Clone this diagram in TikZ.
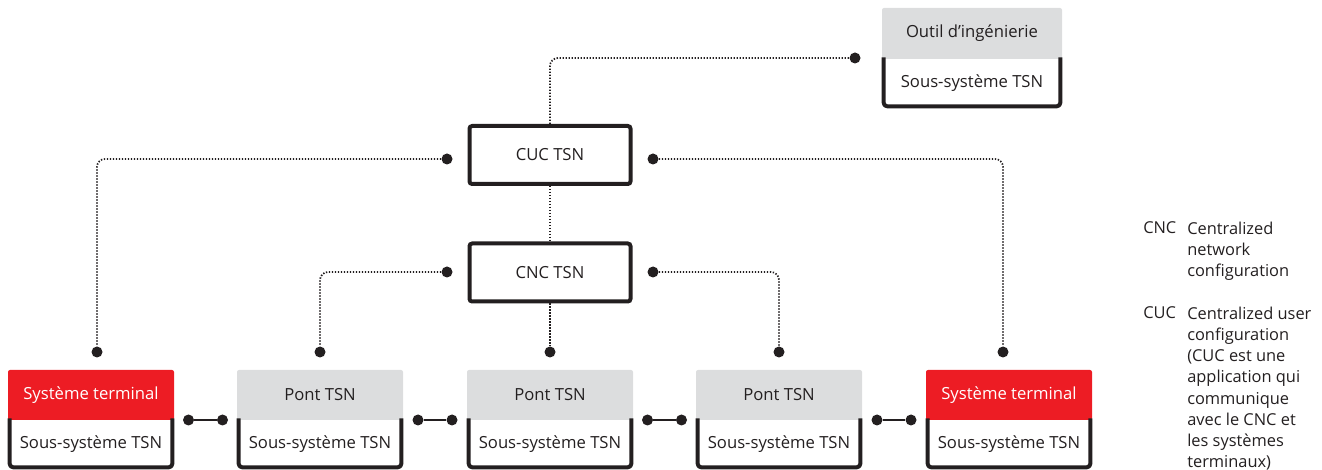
\documentclass[tikz,border=0pt]{standalone}
\usepackage{fontspec}
\setmainfont{Open Sans}
\definecolor{abbred}{HTML}{ED1C24}
\definecolor{hdrgray}{HTML}{DCDDDE}
\definecolor{ink}{HTML}{231F20}

\begin{document}
\begin{tikzpicture}[x=0.75pt,y=-0.75pt,
  every node/.style={font=\fontsize{12.5}{16.1}\selectfont, text=ink},
  ctrlbox/.style={draw=ink, line width=3pt, fill=white, rounded corners=2pt,
    minimum width=120.75pt, minimum height=43.5pt, inner sep=0pt},
  hdrbox/.style={minimum width=124.5pt, minimum height=37.5pt, inner sep=0pt, rounded corners=1.5pt},
  termhdr/.style={hdrbox, fill=abbred, text=white},
  grayhdr/.style={hdrbox, fill=hdrgray},
  devbody/.style={minimum width=124.5pt, minimum height=36.75pt, inner sep=0pt},
  jdot/.style={circle, fill=ink, draw=none, inner sep=0pt, minimum size=8.25pt},
  dotline/.style={draw=ink, line width=1.3pt, dash pattern=on 1.05pt off 1.2pt, rounded corners=6pt},
  linkline/.style={draw=ink, line width=1.2pt},
  subframe/.style={draw=ink, line width=3pt, rounded corners=2.5pt, line join=round, line cap=rect},
  legfont/.style={font=\fontsize{12.3}{15.9}\selectfont},
  legabbr/.style={legfont, anchor=base west, inner sep=0pt},
  legtext/.style={legfont, anchor=north west, align=left, inner sep=0pt}
]
\useasboundingbox (0,0) rectangle (1322,470);

% controllers
\node[ctrlbox] (cuc) at (550,155) {CUC TSN};
\node[ctrlbox] (cnc) at (550,272.5) {CNC TSN};

% engineering tool
\node[grayhdr, minimum width=135pt, minimum height=38.25pt] (toolh) at (972,33.5) {Outil d’ingénierie};
\node[devbody, minimum width=135pt] (toolb) at (972,83.5) {Sous-système TSN};
\draw[subframe] ([xshift=1.5pt]toolh.south west) -- ([xshift=1.5pt,yshift=1.5pt]toolb.south west)
  -- ([xshift=-1.5pt,yshift=1.5pt]toolb.south east) -- ([xshift=-1.5pt]toolh.south east);

% devices in the network
\node[termhdr] (d1h) at (91,395) {Système terminal};
\node[grayhdr] (d2h) at (320,395) {Pont TSN};
\node[grayhdr] (d3h) at (550,395) {Pont TSN};
\node[grayhdr] (d4h) at (779,395) {Pont TSN};
\node[termhdr] (d5h) at (1009,395) {Système terminal};
\foreach \i/\x in {1/91,2/320,3/550,4/779,5/1009}{
  \node[devbody] (d\i b) at (\x,444.5) {Sous-système TSN};
  \draw[subframe] ([xshift=1.5pt]d\i h.south west) -- ([xshift=1.5pt,yshift=1.5pt]d\i b.south west)
    -- ([xshift=-1.5pt,yshift=1.5pt]d\i b.south east) -- ([xshift=-1.5pt]d\i h.south east);
}

% links between neighbouring devices
\foreach \a/\b/\x in {1/2/205.5,2/3/435,3/4/664.5,4/5/894}{
  \node[jdot] (l\a L) at (\x-17,420) {};
  \node[jdot] (l\a R) at (\x+17,420) {};
  \draw[linkline] (l\a L) -- (l\a R);
}

% connection points
\node[jdot] (tooldot) at (855,58) {};
\node[jdot] (cucL) at (447,159) {};
\node[jdot] (cucR) at (653,159) {};
\node[jdot] (cncL) at (447,272) {};
\node[jdot] (cncR) at (653,272) {};
\node[jdot] (e1) at (97,352) {};
\node[jdot] (e2) at (320,352) {};
\node[jdot] (e3) at (550,352) {};
\node[jdot] (e4) at (779,352) {};
\node[jdot] (e5) at (1003,352) {};

% configuration paths
\draw[dotline] (cuc.north) |- (tooldot);
\draw[dotline] (cuc.south) -- (cnc.north);
\draw[dotline] (cucL) -| (e1);
\draw[dotline] (cucR) -| (e5);
\draw[dotline] (cncL) -| (e2);
\draw[dotline] (cncR) -| (e4);
\draw[dotline] (cnc.south) -- (e3);

% legend
\node[legabbr] (cncab) at (1143,234) {CNC};
\node[legtext] (cncdesc) at (1187,221.5) {Centralized\\network\\configuration};
\node[legabbr] (cucab) at (1143,319) {CUC};
\node[legtext] (cucdesc) at (1187,306.5) {Centralized user\\configuration\\(CUC est une\\application qui\\communique\\avec le CNC et\\les systèmes\\terminaux)};
\end{tikzpicture}
\end{document}
